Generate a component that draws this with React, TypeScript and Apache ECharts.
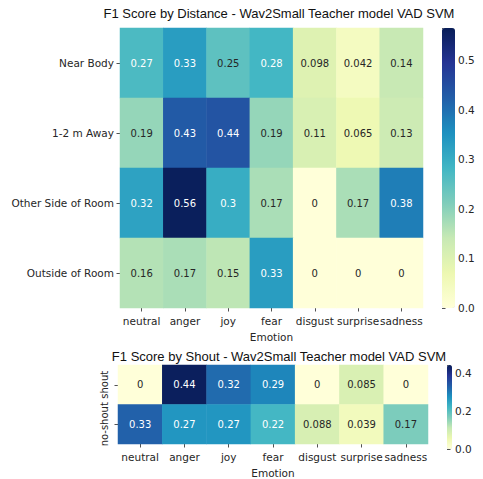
import React, { useEffect, useRef } from "react";
import * as echarts from "echarts";

const emotions = ["neutral", "anger", "joy", "fear", "disgust", "surprise", "sadness"];
const distances = ["Near Body", "1-2 m Away", "Other Side of Room", "Outside of Room"];
const distanceValues = [
  [0.27, 0.33, 0.25, 0.28, 0.098, 0.042, 0.14],
  [0.19, 0.43, 0.44, 0.19, 0.11, 0.065, 0.13],
  [0.32, 0.56, 0.3, 0.17, 0, 0.17, 0.38],
  [0.16, 0.17, 0.15, 0.33, 0, 0, 0],
];
const shouts = ["shout", "no-shout"];
const shoutValues = [
  [0, 0.44, 0.32, 0.29, 0, 0.085, 0],
  [0.33, 0.27, 0.27, 0.22, 0.088, 0.039, 0.17],
];
const distanceMax = 0.565;
const shoutMax = 0.445;
const distanceTicks = [0, 0.1, 0.2, 0.3, 0.4, 0.5];
const shoutTicks = [0, 0.2, 0.4];

const ylgnbu = ["#ffffd9", "#edf8b1", "#c7e9b4", "#7fcdbb", "#41b6c4", "#1d91c0", "#225ea8", "#253494", "#081d58"];

const tickFont = "DejaVu Sans";
const textColor = "#262626";

function cells(values: number[][], max: number) {
  const out: any[] = [];
  values.forEach((row, y) =>
    row.forEach((v, x) => {
      out.push({
        value: [x, y, v],
        label: { color: v / max > 0.46 ? "#ffffff" : textColor },
      });
    })
  );
  return out;
}

export default function App() {
  const ref = useRef<HTMLDivElement>(null);
  useEffect(() => {
    const chart = echarts.init(ref.current!, undefined, { renderer: "svg" });
    const catAxisLabel = { fontFamily: tickFont, fontSize: 10.5, color: textColor };
    const tick = { show: true, alignWithLabel: true, length: 3.5, lineStyle: { color: textColor, width: 0.8 } };
    const titleStyle = { fontFamily: "Liberation Sans", fontSize: 13, fontWeight: "normal", color: "#111" };
    chart.setOption({
      animation: false,
      backgroundColor: "#ffffff",
      title: [
        {
          text: "F1 Score by Distance - Wav2Small Teacher model VAD SVM",
          left: 277,
          top: 5,
          padding: 2,
          textAlign: "center",
          textStyle: titleStyle,
        },
        {
          text: "F1 Score by Shout - Wav2Small Teacher model VAD SVM",
          left: 277,
          top: 348,
          padding: 2,
          textAlign: "center",
          textStyle: titleStyle,
        },
      ],
      grid: [
        { left: 120, top: 28, width: 303, height: 280 },
        { left: 118, top: 365, width: 310, height: 84 },
        { left: 442, top: 28, width: 13, height: 280 },
        { left: 447, top: 365, width: 5, height: 84 },
      ],
      xAxis: [
        {
          type: "category",
          gridIndex: 0,
          data: emotions,
          name: "Emotion",
          nameLocation: "middle",
          nameGap: 23,
          nameTextStyle: { fontFamily: tickFont, fontSize: 10.5, color: textColor },
          axisLine: { show: false },
          axisTick: tick,
          axisLabel: { ...catAxisLabel, margin: 7, interval: 0 },
          splitLine: { show: false },
        },
        {
          type: "category",
          gridIndex: 1,
          data: emotions,
          name: "Emotion",
          nameLocation: "middle",
          nameGap: 23,
          nameTextStyle: { fontFamily: tickFont, fontSize: 10.5, color: textColor },
          axisLine: { show: false },
          axisTick: tick,
          axisLabel: { ...catAxisLabel, margin: 7, interval: 0 },
          splitLine: { show: false },
        },
        { type: "value", gridIndex: 2, show: false, min: 0, max: 1 },
        { type: "value", gridIndex: 3, show: false, min: 0, max: 1 },
      ],
      yAxis: [
        {
          type: "category",
          gridIndex: 0,
          data: distances,
          inverse: true,
          axisLine: { show: false },
          axisTick: tick,
          axisLabel: { ...catAxisLabel, margin: 6, interval: 0 },
          splitLine: { show: false },
        },
        {
          type: "category",
          gridIndex: 1,
          data: shouts,
          inverse: true,
          axisLine: { show: false },
          axisTick: tick,
          axisLabel: { ...catAxisLabel, fontSize: 10, margin: 9, interval: 0, rotate: 90, align: "center", verticalAlign: "bottom" },
          splitLine: { show: false },
        },
        {
          type: "value",
          gridIndex: 2,
          position: "right",
          min: 0,
          max: distanceMax,
          interval: 0.1,
          axisLine: { show: false },
          axisTick: { show: true, length: 3.5, lineStyle: { color: textColor, width: 0.8 } },
          axisLabel: { fontFamily: tickFont, fontSize: 10.5, color: textColor, margin: 3, formatter: (v: number) => (distanceTicks.some((t) => Math.abs(t - v) < 1e-6) ? v.toFixed(1) : "") },
          splitLine: { show: false },
        },
        {
          type: "value",
          gridIndex: 3,
          position: "right",
          min: 0,
          max: shoutMax,
          interval: 0.2,
          axisLine: { show: false },
          axisTick: { show: true, length: 3.5, lineStyle: { color: textColor, width: 0.8 } },
          axisLabel: { fontFamily: tickFont, fontSize: 10.5, color: textColor, margin: 3, formatter: (v: number) => (shoutTicks.some((t) => Math.abs(t - v) < 1e-6) ? v.toFixed(1) : "") },
          splitLine: { show: false },
        },
      ],
      visualMap: [
        {
          type: "continuous",
          seriesIndex: 0,
          min: 0,
          max: distanceMax,
          calculable: false,
          show: true,
          left: 442,
          top: 28,
          itemWidth: 13,
          itemHeight: 280,
          padding: 0,
          text: null,
          hoverLink: false,
          inRange: { color: ylgnbu },
        },
        {
          type: "continuous",
          seriesIndex: 1,
          min: 0,
          max: shoutMax,
          calculable: false,
          show: true,
          left: 447,
          top: 365,
          itemWidth: 5,
          itemHeight: 84,
          padding: 0,
          text: null,
          hoverLink: false,
          inRange: { color: ylgnbu },
        },
      ],
      series: [
        {
          type: "heatmap",
          xAxisIndex: 0,
          yAxisIndex: 0,
          data: cells(distanceValues, distanceMax),
          itemStyle: { borderWidth: 0 },
          label: { show: true, fontFamily: tickFont, fontSize: 10, formatter: (p: any) => String(p.value[2]) },
        },
        {
          type: "heatmap",
          xAxisIndex: 1,
          yAxisIndex: 1,
          data: cells(shoutValues, shoutMax),
          itemStyle: { borderWidth: 0 },
          label: { show: true, fontFamily: tickFont, fontSize: 10, formatter: (p: any) => String(p.value[2]) },
        },
      ],
    });
    return () => chart.dispose();
  }, []);
  return <div ref={ref} style={{ position: "fixed", left: 0, top: 0, width: 483, height: 479 }} />;
}
